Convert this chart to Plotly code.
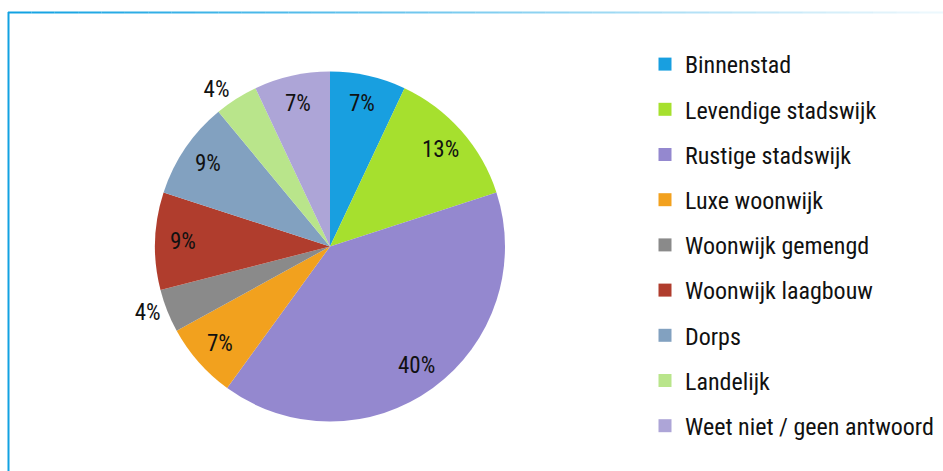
import math
import plotly.graph_objects as go

# Woonmilieu voorkeur (percentages)
categories = [
    "Binnenstad",
    "Levendige stadswijk",
    "Rustige stadswijk",
    "Luxe woonwijk",
    "Woonwijk gemengd",
    "Woonwijk laagbouw",
    "Dorps",
    "Landelijk",
    "Weet niet / geen antwoord",
]
values = [7, 13, 40, 7, 4, 9, 9, 4, 7]
colors = [
    "#189fe0",
    "#a6e02e",
    "#9488cf",
    "#f2a11e",
    "#8a8a8a",
    "#b03d2d",
    "#82a1c0",
    "#b9e58b",
    "#ada5d7",
]

FONT = "Roboto Condensed, Liberation Sans Narrow, sans-serif"
W, H = 943, 471

# pie placement in pixels
CX, CY, R = 330.0, 246.5, 175.0
dom_x = [(CX - R) / W, (CX + R) / W]
dom_y = [(H - CY - R) / H, (H - CY + R) / H]

# small slices get their label outside the pie, the rest via annotations
small = [v <= 4 for v in values]
text_pos = ["outside" if s else "none" for s in small]

fig = go.Figure()
fig.add_trace(
    go.Pie(
        labels=categories,
        values=values,
        sort=False,
        direction="clockwise",
        rotation=0,
        marker=dict(colors=colors, line=dict(width=0)),
        texttemplate="%{value}%",
        textposition=text_pos,
        outsidetextfont=dict(family=FONT, size=23, color="#111111"),
        showlegend=False,
        domain=dict(x=dom_x, y=dom_y),
        hoverinfo="label+percent",
    )
)

# inside labels at mid-angle of each slice
total = float(sum(values))
annotations = []
cum = 0.0
for v, s in zip(values, small):
    mid = (cum + v / 2.0) / total * 2 * math.pi
    cum += v
    if s:
        continue
    px = CX + 0.84 * R * math.sin(mid)
    py = CY - 0.84 * R * math.cos(mid)
    annotations.append(
        dict(x=px / W, y=1 - py / H, xref="paper", yref="paper",
             text=f"{v}%", showarrow=False, xanchor="center", yanchor="middle",
             font=dict(family=FONT, size=23, color="#111111"))
    )

# Legend entries (one group per category so they can be spaced apart)
for i, (name, col) in enumerate(zip(categories, colors)):
    fig.add_trace(
        go.Scatter(
            x=[None],
            y=[None],
            mode="markers",
            name=name,
            legendgroup=f"g{i}",
            marker=dict(symbol="square", size=13, color=col),
            hoverinfo="skip",
        )
    )

# Frame: left rule and a top rule that fades to the right
shapes = [
    dict(type="line", xref="paper", yref="paper",
         x0=8.5 / W, x1=8.5 / W, y0=0, y1=(H - 12) / H,
         line=dict(color="#12a2e2", width=2)),
]
n_seg = 40
x_start, x_end = 8, W
for k in range(n_seg):
    xa = x_start + (x_end - x_start) * k / n_seg
    xb = x_start + (x_end - x_start) * (k + 1) / n_seg
    t = k / (n_seg - 1)
    op = 1.0 - 0.92 * t
    shapes.append(
        dict(type="line", xref="paper", yref="paper",
             x0=xa / W, x1=xb / W, y0=(H - 12.5) / H, y1=(H - 12.5) / H,
             line=dict(color=f"rgba(18,162,226,{op:.3f})", width=2))
    )

fig.update_layout(
    width=W,
    height=H,
    margin=dict(l=0, r=0, t=0, b=0),
    paper_bgcolor="white",
    plot_bgcolor="white",
    xaxis=dict(visible=False),
    yaxis=dict(visible=False),
    shapes=shapes,
    annotations=annotations,
    showlegend=True,
    legend=dict(
        x=645 / W,
        y=1 - 42 / H,
        xanchor="left",
        yanchor="top",
        font=dict(family=FONT, size=24, color="#111111"),
        tracegroupgap=11.0,
        itemsizing="trace",
        bgcolor="rgba(0,0,0,0)",
    ),
    font=dict(family=FONT),
)

fig.write_html("out.html")
